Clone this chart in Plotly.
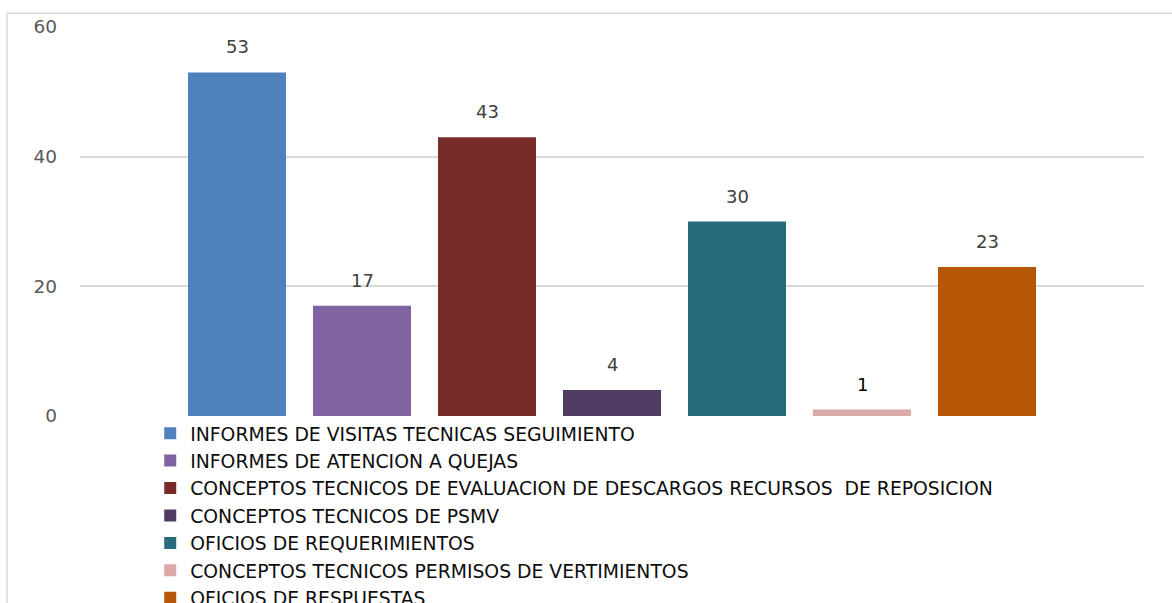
import plotly.graph_objects as go

categories = [
    "INFORMES DE VISITAS TECNICAS SEGUIMIENTO",
    "INFORMES DE ATENCION A QUEJAS",
    "CONCEPTOS TECNICOS DE EVALUACION DE DESCARGOS RECURSOS  DE REPOSICION",
    "CONCEPTOS TECNICOS DE PSMV",
    "OFICIOS DE REQUERIMIENTOS",
    "CONCEPTOS TECNICOS PERMISOS DE VERTIMIENTOS",
    "OFICIOS DE RESPUESTAS",
]
values = [53, 17, 43, 4, 30, 1, 23]
colors = ["#4F81BD", "#8064A2", "#772C2A", "#4F3B62", "#276A7C", "#DBA9A8", "#B65708"]
label_colors = ["#404040"] * 5 + ["#000000", "#404040"]
y_ticks = [0, 20, 40, 60]

FONT = "DejaVu Sans"

fig = go.Figure()
for i, (name, v, c) in enumerate(zip(categories, values, colors)):
    fig.add_trace(go.Bar(
        x=[name], y=[v], name=name, marker=dict(color=c, line=dict(width=0)),
        width=0.784, hoverinfo="y",
    ))
    fig.add_annotation(
        x=name, y=v, text=str(v), showarrow=False, yanchor="bottom", yshift=13,
        font=dict(family=FONT, size=18, color=label_colors[i]),
    )

fig.update_layout(
    width=1172, height=603,
    margin=dict(l=80, r=28, t=27, b=187, autoexpand=False),
    paper_bgcolor="white", plot_bgcolor="white",
    barmode="overlay",
    showlegend=True,
    legend=dict(
        orientation="v", x=0.066, xanchor="left", y=0.004, yanchor="top",
        font=dict(family=FONT, size=18.8, color="#0D0D0D"),
        traceorder="normal", bgcolor="rgba(0,0,0,0)",
        itemclick=False,
    ),
    xaxis=dict(
        type="category", categoryorder="array", categoryarray=categories,
        range=[-1.256, 7.256], showticklabels=False, showgrid=False,
        zeroline=False, showline=False, ticks="",
    ),
    yaxis=dict(
        range=[0, 60], tickvals=y_ticks, showgrid=True, gridcolor="#D9D9D9",
        gridwidth=1.5, zeroline=False, showline=False, ticks="",
        tickfont=dict(family=FONT, size=18.5, color="#595959"),
        ticklabelstandoff=22,
    ),
    shapes=[
        dict(type="line", xref="paper", yref="paper", x0=-0.0686, x1=1.1, y0=1.0355, y1=1.0355,
             line=dict(color="#D9D9D9", width=1.5)),
        dict(type="line", xref="paper", yref="paper", x0=-0.0686, x1=-0.0686, y0=1.0355, y1=-0.6,
             line=dict(color="#D9D9D9", width=1.5)),
    ],
)

fig.write_html(
    "out.html",
    config={"displayModeBar": False},
    post_script="document.body.style.margin='0';document.body.style.overflow='hidden';",
)
